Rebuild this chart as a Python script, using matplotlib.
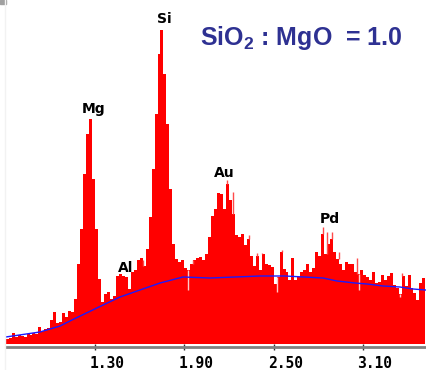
import numpy as np
import matplotlib
matplotlib.use("Agg")
import matplotlib.pyplot as plt
import matplotlib.transforms as mtransforms

plt.rcParams['mathtext.fontset'] = 'custom'
plt.rcParams['mathtext.rm'] = 'Liberation Sans:bold'
plt.rcParams['mathtext.bf'] = 'Liberation Sans:bold'

# EDS spectrum, 0.02 keV channels starting at 0.70 keV
e_start = 0.70
e_step = 0.02
counts = [5, 6, 11, 7, 9, 8, 7, 10, 9, 11, 10, 17, 13, 15, 16, 24, 32, 21, 22, 31,
          27, 33, 32, 45, 80, 115, 170, 210, 225, 165, 115, 65, 42, 50, 52, 45, 48, 68, 70, 68,
          67, 55, 72, 74, 84, 86, 78, 95, 127, 175, 230, 290, 314, 270, 220, 155, 100, 85, 82, 84,
          76, 74, 80, 84, 86, 87, 84, 90, 107, 128, 135, 151, 150, 135, 160, 144, 130, 109, 107, 110,
          99, 105, 88, 78, 88, 74, 90, 80, 79, 77, 60, 67, 92, 75, 72, 64, 86, 64, 67, 72,
          74, 80, 72, 76, 92, 88, 110, 90, 100, 105, 92, 85, 80, 74, 82, 80, 80, 72, 70, 74,
          69, 67, 64, 72, 61, 62, 69, 64, 68, 71, 59, 56, 50, 68, 58, 69, 56, 51, 44, 61, 66]
energy = e_start + e_step * np.arange(len(counts))

# single-channel spikes and dips on top of the binned spectrum
spike_energy = [1.582, 1.622, 1.958, 2.005, 2.187, 2.227, 2.335, 2.388, 2.422, 2.556, 2.630,
                2.832, 2.859, 2.892, 2.939, 3.060, 3.174, 3.289, 3.363, 3.410, 3.517]
spike_counts = [84, 84, 84, 87, 164, 152, 109, 91, 91, 94, 86,
                117, 112, 112, 92, 86, 72, 71, 71, 69, 66]
dip_energy = [1.925, 2.523, 3.074, 3.349]
dip_counts = [54, 52, 54, 47]

# fitted background
bg_energy = [0.70, 0.93, 1.065, 1.145, 1.354, 1.468, 1.602, 1.737, 1.891, 2.073, 2.241,
             2.409, 2.577, 2.832, 2.926, 3.047, 3.128, 3.235, 3.349, 3.437, 3.52]
bg_counts = [7, 12, 18, 24, 39, 47, 54, 61, 67, 66, 67, 68, 68, 66, 63, 61, 60, 58, 57, 55, 54]

peak_names = ["Mg", "Al", "Si", "Au", "Pd"]
peak_energy = [1.293, 1.508, 1.764, 2.167, 2.879]
peak_label_y = [231, 72, 321, 167, 121]

tick_vals = [1.30, 1.90, 2.50, 3.10]
tick_text = ["1.30", "1.90", "2.50", "3.10"]

fig = plt.figure(figsize=(4.26, 3.70), dpi=100)
ax = fig.add_axes([6 / 426, 23 / 370, 420 / 426, 347 / 370])

counts_arr = np.array(counts)
ax.bar(energy, counts, width=e_step, align='edge', color='#ff0000', edgecolor='none')
spike_base = counts_arr[((np.array(spike_energy) - e_start) // e_step).astype(int)]
ax.vlines(spike_energy, np.minimum(spike_base, spike_counts), spike_counts, color='#ff4a4a', lw=1.0)
dip_top = counts_arr[((np.array(dip_energy) - e_start) // e_step).astype(int)]
ax.vlines(dip_energy, dip_counts, dip_top, color='#ffc8c8', lw=1.0)
ax.plot(bg_energy, bg_counts, color='#1a1aff', lw=1.0)

for name, e, y in zip(peak_names, peak_energy, peak_label_y):
    ax.text(e, y, name, ha='center', va='baseline', fontsize=10,
            fontweight='bold', family='DejaVu Sans', color='black')

ax.set_xlim(0.702, 3.524)
ax.set_ylim(-3, 344)
for s in ['top', 'left', 'right']:
    ax.spines[s].set_visible(False)
ax.spines['bottom'].set_color('#808080')
ax.spines['bottom'].set_linewidth(2.0)
ax.set_yticks([])
ax.set_xticks(tick_vals)
ax.set_xticklabels(tick_text, family='DejaVu Sans Mono', fontweight='bold', fontsize=10.5)
ax.tick_params(axis='x', direction='inout', length=5, width=1, color='#303030', pad=4)
offset = mtransforms.ScaledTranslation(12 / 100, 0, fig.dpi_scale_trans)
for lab in ax.get_xticklabels():
    lab.set_transform(lab.get_transform() + offset)

fig.text(200 / 426, 1 - 45 / 370, "SiO$_2$ : MgO  = 1.0", fontsize=18, fontweight='bold',
         family='Liberation Sans', color='#2e3192', va='baseline', ha='left')

fig.patches.append(plt.Rectangle((0, 1 - 4 / 370), 6 / 426, 4 / 370, transform=fig.transFigure,
                                 color='#a0a0a0', zorder=0))
fig.lines.append(plt.Line2D([5 / 426, 5 / 426], [0, 1], transform=fig.transFigure,
                            color='#f2f2f2', lw=1))

fig.savefig("out.png", dpi=100)
